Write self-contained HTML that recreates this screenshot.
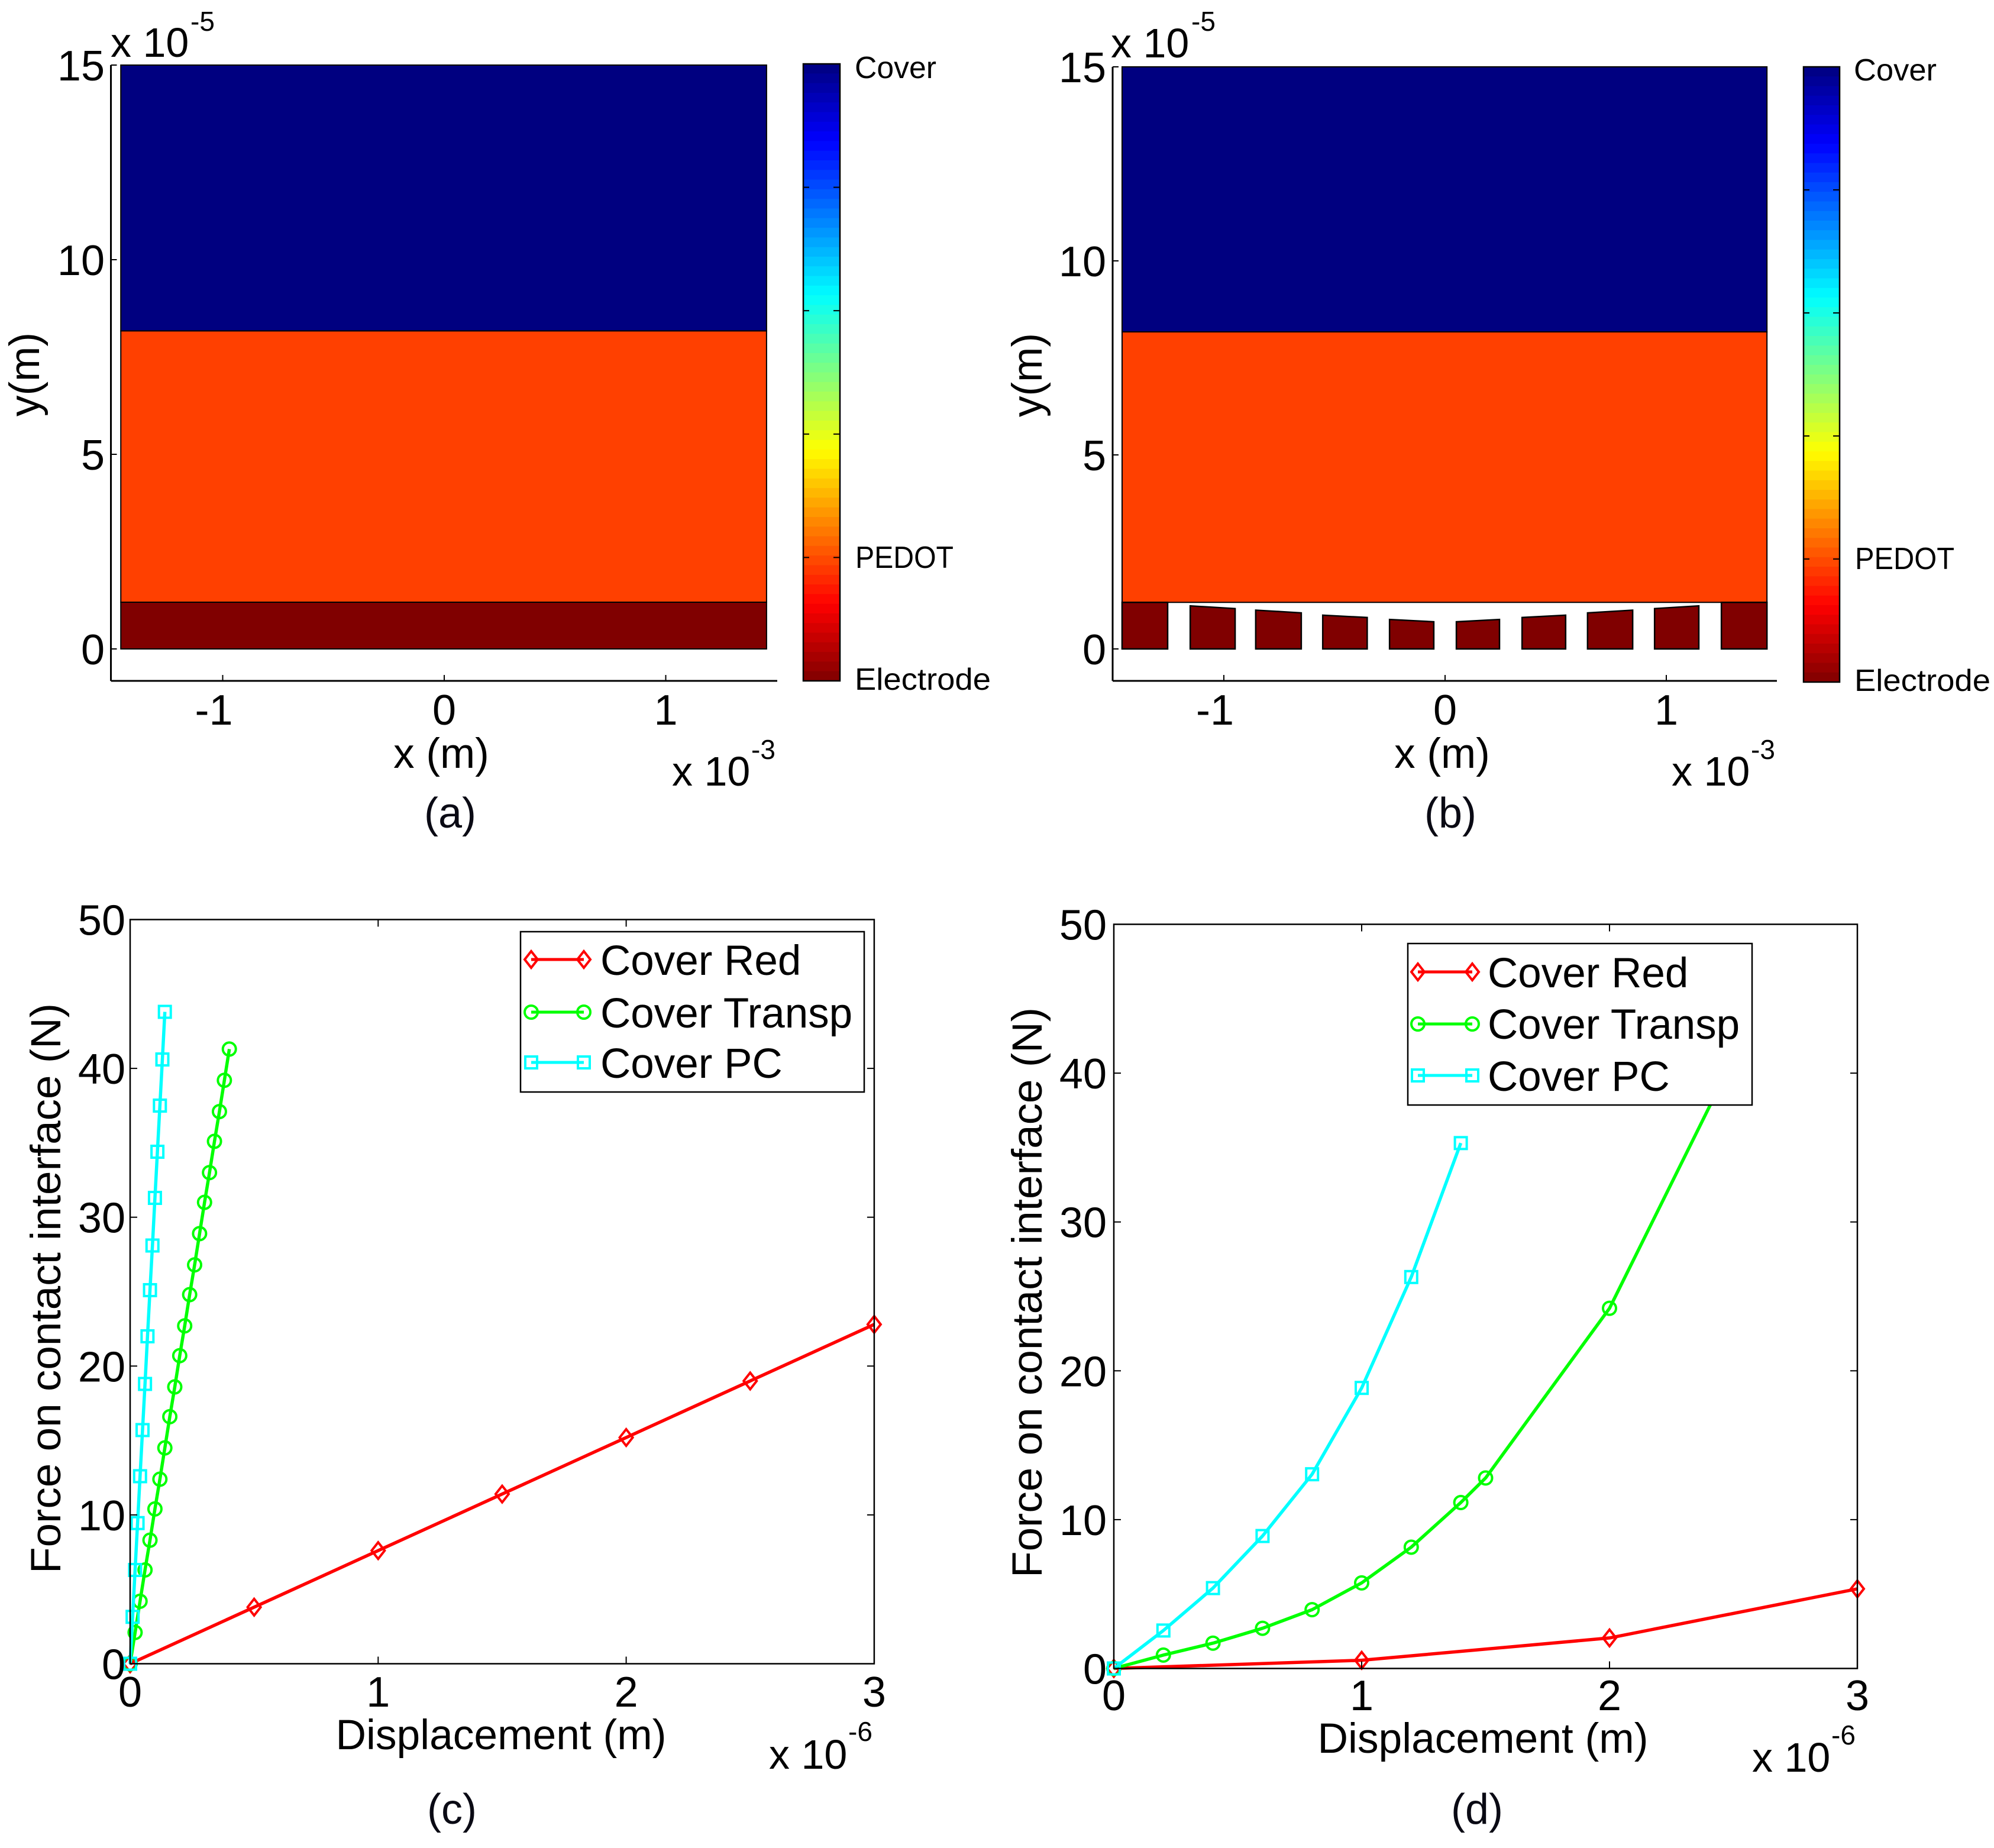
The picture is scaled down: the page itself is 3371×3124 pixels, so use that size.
<!DOCTYPE html>
<html lang="en">
<head>
<meta charset="utf-8">
<title>Electrode layer structure and force versus displacement</title>
<style>
html,body{margin:0;padding:0;background:#fff;}
svg{display:block;}
text{font-family:"Liberation Sans",sans-serif;fill:#000;}
.tick{font-size:72px;}
.axis{font-size:71px;}
.exp{font-size:70px;}
.sup{font-size:46px;}
.cap{font-size:72px;fill:#0a0a14;}
.cb{font-size:52px;}
.leg{font-size:71px;}
</style>
</head>
<body>
<svg id="figure" xmlns="http://www.w3.org/2000/svg" width="3371" height="3124" viewBox="0 0 3371 3124">
<rect x="0" y="0" width="3371" height="3124" fill="#fff"/>
<g id="panel-a">
  <text class="exp" x="187" y="96">x 10</text>
  <text class="sup" x="322" y="52">-5</text>
  <text class="axis" transform="translate(66,633) rotate(-90)" text-anchor="middle">y(m)</text>
  <text class="axis" x="746" y="1298" text-anchor="middle">x (m)</text>
  <text class="exp" x="1136" y="1328">x 10</text>
  <text class="sup" x="1270" y="1283">-3</text>
  <text class="cap" x="761" y="1399" text-anchor="middle">(a)</text>
  <text class="cb" x="1445" y="132" textLength="138" lengthAdjust="spacingAndGlyphs">Cover</text>
  <text class="cb" x="1446" y="960" textLength="166" lengthAdjust="spacingAndGlyphs">PEDOT</text>
  <text class="cb" x="1445" y="1166" textLength="230" lengthAdjust="spacingAndGlyphs">Electrode</text>
</g>
<g id="panel-b">
  <text class="exp" x="1878" y="97">x 10</text>
  <text class="sup" x="2014" y="52">-5</text>
  <text class="axis" transform="translate(1761,634) rotate(-90)" text-anchor="middle">y(m)</text>
  <text class="axis" x="2438" y="1298" text-anchor="middle">x (m)</text>
  <text class="exp" x="2826" y="1328">x 10</text>
  <text class="sup" x="2960" y="1283">-3</text>
  <text class="cap" x="2452" y="1399" text-anchor="middle">(b)</text>
  <text class="cb" x="3134" y="136" textLength="140" lengthAdjust="spacingAndGlyphs">Cover</text>
  <text class="cb" x="3136" y="962" textLength="168" lengthAdjust="spacingAndGlyphs">PEDOT</text>
  <text class="cb" x="3135" y="1168" textLength="230" lengthAdjust="spacingAndGlyphs">Electrode</text>
</g>
<g id="panel-c">
  <text class="axis" transform="translate(102,2178) rotate(-90)" text-anchor="middle" textLength="964" lengthAdjust="spacingAndGlyphs">Force on contact interface (N)</text>
  <text class="axis" x="847" y="2957" text-anchor="middle" textLength="559" lengthAdjust="spacingAndGlyphs">Displacement (m)</text>
  <text class="exp" x="1300" y="2990">x 10</text>
  <text class="sup" x="1434" y="2943">-6</text>
  <text class="cap" x="764" y="3083" text-anchor="middle">(c)</text>
</g>
<g id="panel-d">
  <text class="axis" transform="translate(1761,2185) rotate(-90)" text-anchor="middle" textLength="964" lengthAdjust="spacingAndGlyphs">Force on contact interface (N)</text>
  <text class="axis" x="2507" y="2963" text-anchor="middle" textLength="559" lengthAdjust="spacingAndGlyphs">Displacement (m)</text>
  <text class="exp" x="2962" y="2995">x 10</text>
  <text class="sup" x="3096" y="2949">-6</text>
  <text class="cap" x="2497" y="3083" text-anchor="middle">(d)</text>
</g>
</svg>
<script>
// ---- Data ----
var structureXTicks = [-1, 0, 1];
var structureYTicks = [0, 5, 10, 15];
var forceXTicks = [0, 1, 2, 3];
var forceYTicks = [0, 10, 20, 30, 40, 50];

var layerBottoms = [8.17, 1.2, 0];
var layerTops = [15, 8.17, 1.2];
var layerColors = ['#000080', '#ff4000', '#800000'];
var layerNames = ['cover', 'pedot', 'electrode'];
var layerXMin = -1.46;
var layerXMax = 1.455;

var electrodeLeft = [-1.46, -1.152, -0.856, -0.553, -0.251, 0.051, 0.348, 0.644, 0.947, 1.249];
var electrodeRight = [-1.254, -0.949, -0.650, -0.352, -0.051, 0.246, 0.545, 0.848, 1.147, 1.455];
var electrodeTopLeft = [1.2, 1.11, 1.00, 0.87, 0.76, 0.70, 0.81, 0.93, 1.04, 1.2];
var electrodeTopRight = [1.2, 1.04, 0.93, 0.81, 0.70, 0.76, 0.87, 1.00, 1.11, 1.2];

var cRedX = [0, 0.5, 1, 1.5, 2, 2.5, 3];
var cRedY = [0, 3.8, 7.6, 11.4, 15.2, 19, 22.8];
var cGreenX = [0, 0.02, 0.04, 0.06, 0.08, 0.10, 0.12, 0.14, 0.16, 0.18, 0.20, 0.22, 0.24, 0.26, 0.28, 0.30, 0.32, 0.34, 0.36, 0.38, 0.40];
var cGreenY = [0, 2.1, 4.2, 6.3, 8.3, 10.4, 12.4, 14.5, 16.6, 18.6, 20.7, 22.7, 24.8, 26.8, 28.9, 31, 33, 35.1, 37.1, 39.2, 41.3];
var cCyanX = [0, 0.01, 0.02, 0.03, 0.04, 0.05, 0.06, 0.07, 0.08, 0.09, 0.10, 0.11, 0.12, 0.13, 0.14];
var cCyanY = [0, 3.15, 6.3, 9.45, 12.6, 15.7, 18.8, 22, 25.1, 28.1, 31.3, 34.4, 37.5, 40.6, 43.8];

var dRedX = [0, 1, 2, 3];
var dRedY = [0, 0.55, 2.05, 5.35];
var dGreenX = [0, 0.2, 0.4, 0.6, 0.8, 1, 1.2, 1.4, 1.5, 2, 2.5];
var dGreenY = [0, 0.9, 1.7, 2.7, 3.95, 5.75, 8.15, 11.15, 12.8, 24.2, 41];
var dCyanX = [0, 0.2, 0.4, 0.6, 0.8, 1, 1.2, 1.4];
var dCyanY = [0, 2.55, 5.4, 8.9, 13.05, 18.85, 26.3, 35.3];

var legendLabels = ['Cover Red', 'Cover Transp', 'Cover PC'];

// ---- Axis functions ----
function xA(v) { return 751 + 374.5 * v; }
function yA(v) { return 1097 - 65.8 * v; }
function xB(v) { return 2443 + 374 * v; }
function yB(v) { return 1097 - 65.6 * v; }
function xC(v) { return 220 + 419.3 * v; }
function yC(v) { return 2812.5 - 25.16 * v; }
function xD(v) { return 1883 + 419 * v; }
function yD(v) { return 2820.5 - 25.16 * v; }

var NS = 'http://www.w3.org/2000/svg';
function mk(tag, parent, attrs) {
  var e = document.createElementNS(NS, tag);
  for (var k in attrs) { e.setAttribute(k, attrs[k]); }
  parent.appendChild(e);
  return e;
}
function hline(parent, x1, y1, x2, y2, w, color) {
  return mk('line', parent, { x1: x1, y1: y1, x2: x2, y2: y2, stroke: color || '#000', 'stroke-width': w });
}

function jet(v) {
  function c(t) { return Math.round(255 * Math.max(0, Math.min(1, t))); }
  var r = c(Math.min(4 * v - 1.5, -4 * v + 4.5));
  var g = c(Math.min(4 * v - 0.5, -4 * v + 3.5));
  var b = c(Math.min(4 * v + 0.5, -4 * v + 2.5));
  return 'rgb(' + r + ',' + g + ',' + b + ')';
}

function drawColorbar(parent, x0, x1, y0, y1) {
  var g = mk('g', parent, {});
  
  
  var n = 64;
  var h = (y1 - y0) / n;
  for (var i = 0; i < n; i++) {
    var r = mk('rect', g, { x: x0, y: y0 + i * h, width: x1 - x0, height: h + 0.6, fill: jet((i + 0.5) / n) });
    
    
  }
  for (var t = 1; t < 5; t++) {
    var ty = y0 + t * (y1 - y0) / 5;
    var tl = hline(g, x0, ty, x0 + 10, ty, 2);
    
    
    var tr = hline(g, x1 - 11, ty, x1, ty, 2);
    
    
  }
  var b = mk('rect', g, { x: x0, y: y0, width: x1 - x0, height: y1 - y0, fill: 'none', stroke: '#000', 'stroke-width': 2.5 });
  
  
}

function drawTickLabels(parent, ticksX, ticksY, xFn, yFn, xBase, yRight) {
  ticksX.forEach(function (v) {
    var t = mk('text', parent, { 'class': 'tick', x: xFn(v) - (v < 0 ? 15 : 0), y: xBase, 'text-anchor': 'middle' });
    
    
    t.textContent = String(v);
  });
  ticksY.forEach(function (v) {
    var t = mk('text', parent, { 'class': 'tick', x: yRight, y: yFn(v) + 26, 'text-anchor': 'end' });
    
    
    t.textContent = String(v);
  });
}

function drawStructurePanel(parent, xFn, yFn, left, right, bottom, top, patterned) {
  for (var i = 0; i < layerNames.length; i++) {
    if (patterned && layerNames[i] === 'electrode') { continue; }
    var y0 = yFn(layerTops[i]);
    var y1 = yFn(layerBottoms[i]);
    var r = mk('rect', parent, { x: xFn(layerXMin), y: y0, width: xFn(layerXMax) - xFn(layerXMin), height: y1 - y0, fill: layerColors[i], stroke: '#000', 'stroke-width': 2 });
    
    
  }
  if (patterned) {
    for (var e = 0; e < electrodeLeft.length; e++) {
      var pts = [
        [xFn(electrodeLeft[e]), yFn(0)],
        [xFn(electrodeLeft[e]), yFn(electrodeTopLeft[e])],
        [xFn(electrodeRight[e]), yFn(electrodeTopRight[e])],
        [xFn(electrodeRight[e]), yFn(0)]
      ];
      var p = mk('polygon', parent, { points: pts.map(function (q) { return q.join(','); }).join(' '), fill: '#800000', stroke: '#000', 'stroke-width': 2.5 });
      
      
    }
  }
  var ax = hline(parent, left, top, left, bottom, 3);
  
  
  var bx = hline(parent, left, bottom, right, bottom, 3);
  
  
  structureXTicks.forEach(function (v) {
    var t = hline(parent, xFn(v), bottom, xFn(v), bottom - 10, 2);
    
    
  });
  structureYTicks.forEach(function (v) {
    var t = hline(parent, left, yFn(v), left + 10, yFn(v), 2);
    
    
  });
}

function drawMarker(parent, kind, cx, cy, color) {
  var m;
  if (kind === 'diamond') {
    m = mk('polygon', parent, { points: cx + ',' + (cy - 14) + ' ' + (cx + 11) + ',' + cy + ' ' + cx + ',' + (cy + 14) + ' ' + (cx - 11) + ',' + cy, fill: 'none', stroke: color, 'stroke-width': 4 });
  } else if (kind === 'circle') {
    m = mk('circle', parent, { cx: cx, cy: cy, r: 11, fill: 'none', stroke: color, 'stroke-width': 4 });
  } else {
    m = mk('rect', parent, { x: cx - 10, y: cy - 10, width: 20, height: 20, fill: 'none', stroke: color, 'stroke-width': 4 });
  }
  
  
}

function drawSeries(parent, name, xs, ys, xFn, yFn, color, kind) {
  var g = mk('g', parent, {});
  
  
  var pts = [];
  for (var i = 0; i < xs.length; i++) { pts.push(xFn(xs[i]) + ',' + yFn(ys[i])); }
  var l = mk('polyline', g, { points: pts.join(' '), fill: 'none', stroke: color, 'stroke-width': 5.5, 'stroke-linejoin': 'round' });
  
  
  for (var j = 0; j < xs.length; j++) { drawMarker(g, kind, xFn(xs[j]), yFn(ys[j]), color); }
}

function drawForceFrame(parent, xFn, yFn) {
  var left = xFn(0), right = xFn(3), bottom = yFn(0), top = yFn(50);
  var f = mk('rect', parent, { x: left, y: top, width: right - left, height: bottom - top, fill: 'none', stroke: '#000', 'stroke-width': 2.5 });
  
  
  forceXTicks.slice(1, -1).forEach(function (v) {
    var a = hline(parent, xFn(v), bottom, xFn(v), bottom - 12, 2);
    
    
    var b = hline(parent, xFn(v), top, xFn(v), top + 12, 2);
    
    
  });
  forceYTicks.slice(1, -1).forEach(function (v) {
    var a = hline(parent, left, yFn(v), left + 12, yFn(v), 2);
    
    
    var b = hline(parent, right, yFn(v), right - 12, yFn(v), 2);
    
    
  });
}

function drawLegend(parent, x0, y0, x1, y1, lineX0, lineX1, textX, lineYs, textYs) {
  var g = mk('g', parent, {});
  
  
  var box = mk('rect', g, { x: x0, y: y0, width: x1 - x0, height: y1 - y0, fill: '#fff', stroke: '#000', 'stroke-width': 2.5 });
  
  
  var colors = ['#ff0000', '#00ff00', '#00ffff'];
  var kinds = ['diamond', 'circle', 'square'];
  for (var i = 0; i < 3; i++) {
    var entry = mk('g', g, {});
    
    
    var l = hline(entry, lineX0, lineYs[i], lineX1, lineYs[i], 5, colors[i]);
    
    
    drawMarker(entry, kinds[i], lineX0, lineYs[i], colors[i]);
    drawMarker(entry, kinds[i], lineX1, lineYs[i], colors[i]);
    var t = mk('text', entry, { 'class': 'leg', x: textX, y: textYs[i] });
    
    
    t.textContent = legendLabels[i];
  }
}

var pA = document.getElementById('panel-a');
var pB = document.getElementById('panel-b');
var pC = document.getElementById('panel-c');
var pD = document.getElementById('panel-d');

drawStructurePanel(pA, xA, yA, 187.5, 1314, 1151, 110, false);
drawColorbar(pA, 1358, 1420, 108, 1151);
drawTickLabels(pA, structureXTicks, structureYTicks, xA, yA, 1225, 177);

drawStructurePanel(pB, xB, yB, 1881, 3004, 1151, 113, true);
drawColorbar(pB, 3049, 3110, 113, 1153);
drawTickLabels(pB, structureXTicks, structureYTicks, xB, yB, 1225, 1870);

drawSeries(pC, 'series-cover-red', cRedX, cRedY, xC, yC, '#ff0000', 'diamond');
drawSeries(pC, 'series-cover-transp', cGreenX, cGreenY, xC, yC, '#00ff00', 'circle');
drawSeries(pC, 'series-cover-pc', cCyanX, cCyanY, xC, yC, '#00ffff', 'square');
drawForceFrame(pC, xC, yC);
drawTickLabels(pC, forceXTicks, forceYTicks, xC, yC, 2885, 212);
drawLegend(pC, 880, 1575, 1461, 1846, 898, 987, 1015, [1622, 1711, 1796], [1648, 1737, 1822]);

drawSeries(pD, 'series-cover-red', dRedX, dRedY, xD, yD, '#ff0000', 'diamond');
drawSeries(pD, 'series-cover-transp', dGreenX, dGreenY, xD, yD, '#00ff00', 'circle');
drawSeries(pD, 'series-cover-pc', dCyanX, dCyanY, xD, yD, '#00ffff', 'square');
drawForceFrame(pD, xD, yD);
drawTickLabels(pD, forceXTicks, forceYTicks, xD, yD, 2891, 1871);
drawLegend(pD, 2380, 1595, 2962, 1868, 2397, 2489, 2515, [1643, 1731, 1818], [1669, 1756, 1844]);
</script>
</body>
</html>
